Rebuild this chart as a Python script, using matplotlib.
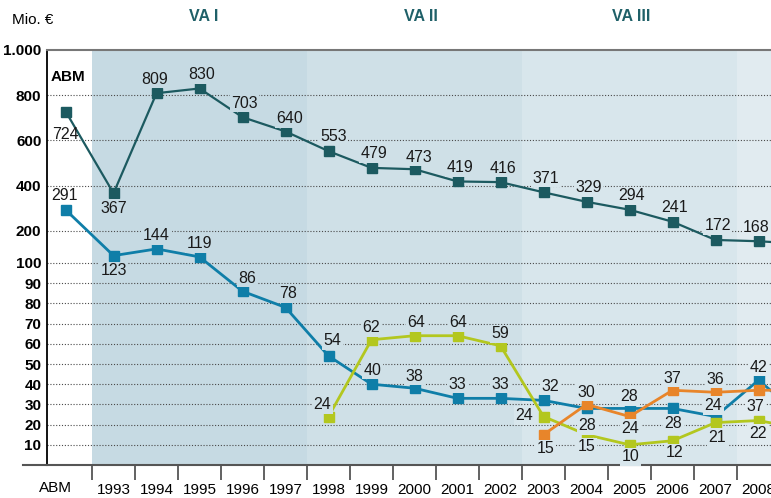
import numpy as np
import matplotlib
matplotlib.use('Agg')
import matplotlib.pyplot as plt
from matplotlib.lines import Line2D

# Daten (Mio. EUR), ABM + Jahre 1993-2009 (2009 nur angeschnitten)
kategorien = ['ABM', '1993', '1994', '1995', '1996', '1997', '1998', '1999', '2000',
              '2001', '2002', '2003', '2004', '2005', '2006', '2007', '2008', '2009']
abm_gesamt = [724, 367, 809, 830, 703, 640, 553, 479, 473, 419, 416, 371, 329, 294, 241, 172, 168, 160]
blau = [291, 123, 144, 119, 86, 78, 54, 40, 38, 33, 33, 32, 28, 28, 28, 24, 42, 24]
gruen = [None] * 6 + [24, 62, 64, 64, 59, 24, 15, 10, 12, 21, 22, 18]
orange = [None] * 11 + [15, 30, 24, 37, 36, 37, 37]

y_ticks = [10, 20, 30, 40, 50, 60, 70, 80, 90, 100, 200, 400, 600, 800, 1000]
y_labels = ['10', '20', '30', '40', '50', '60', '70', '80', '90', '100', '200', '400', '600', '800', '1.000']
perioden = ['VA I', 'VA II', 'VA III']

# Position der Beschriftungen (Pixel-Offset zum Punkt)
O = (2, 14)
U = (0, -15)
pos_abm = [(-1, -22), U, (-2, 14), O, O, (4, 13), (5, 15), O, (4, 12), O, O, O, O, O, O, O, (-2, 14), None]
pos_blau = [(-2, 15), U, (0, 13), (0, 13), (5, 13), (3, 14), (4, 15), (1, 14), (0, 12), (0, 14), (0, 14),
            (7, 14), (1, -17), (0, 12), (1, -15), (-2, 11), (0, 13), None]
pos_gruen = [None] * 6 + [(-6, 12), (0, 12), (2, 13), (1, 13), (0, 12), (-19, 1), (0, -12), (1, -12),
                          (2, -12), (2, -15), (-1, -13), None]
pos_orange = [None] * 11 + [(2, -14), (0, 12), (1, -12), (0, 12), (0, 13), (-3, -16), None]

# x-Positionen: 1993 = 0, ABM etwas weiter links
xpos = np.r_[-1.1, np.arange(len(kategorien) - 1)]

# gebrochene y-Achse: 0-100 / 100-200 / 200-1000
sv = [0, 100, 200, 1000]
sp = [0, 202, 234, 415]
def fwd(v):
    return np.interp(v, sv, sp)
def inv(p):
    return np.interp(p, sp, sv)

band_farben = ['#c6dae3', '#cfe0e7', '#d8e6ec', '#e1ebf0']
band_grenzen = [-0.5, 4.5, 9.5, 14.5, 30]

def hintergrund(x):
    for i in range(4):
        if band_grenzen[i] <= x < band_grenzen[i + 1]:
            return band_farben[i]
    return 'none'

fig = plt.figure(figsize=(7.71, 4.98), dpi=100)
W, H = 771, 498
ax = fig.add_axes([47 / W, (H - 465) / H, (W - 47) / W, (465 - 50) / H])
ax.set_yscale('function', functions=(fwd, inv))

for i in range(4):
    ax.axvspan(band_grenzen[i], band_grenzen[i + 1], color=band_farben[i], lw=0, zorder=0)

for y in y_ticks[:-1]:
    ax.axhline(y, color='#4a4a4a', lw=0.8, ls=(0, (1, 1.6)), zorder=1)

def zeichne(werte, farbe, pos, lw):
    w = np.array([np.nan if v is None else v for v in werte], dtype=float)
    ax.plot(xpos, w, color=farbe, lw=lw, marker='s', ms=6.5, zorder=3, clip_on=True)
    for xi, v, p in zip(xpos, werte, pos):
        if v is None or p is None:
            continue
        ax.annotate(str(v), (xi, v), xytext=p, textcoords='offset pixels',
                    ha='center', va='center', fontsize=11.5, family=['Liberation Sans', 'DejaVu Sans'],
                    color='#1a1a1a', zorder=4,
                    bbox=dict(boxstyle='square,pad=0.1', fc=hintergrund(xi + p[0] / 43.0), ec='none'))

zeichne(abm_gesamt, '#1c5a60', pos_abm, 1.6)
zeichne(blau, '#0f7ea8', pos_blau, 2.0)
zeichne(gruen, '#b3c71f', pos_gruen, 2.0)
zeichne(orange, '#e8852a', pos_orange, 2.0)

ax.set_yticks(y_ticks)
ax.set_yticklabels(y_labels)
ax.yaxis.set_minor_locator(plt.NullLocator())
ax.tick_params(axis='y', length=0, pad=4, labelsize=11)
for t in ax.get_yticklabels():
    t.set_family(['Liberation Sans Narrow', 'Liberation Sans'])
    t.set_fontweight('bold')

ax.set_xticks(np.arange(16))
ax.set_xticklabels(kategorien[1:17])
ax.set_xticks(np.arange(-0.5, 15.6, 1), minor=True)
ax.tick_params(axis='x', which='major', length=0, pad=13, labelsize=11)
ax.tick_params(axis='x', which='minor', length=11, width=1.3, color='#555555', direction='out')
for t in ax.get_xticklabels():
    t.set_family(['Liberation Sans', 'DejaVu Sans'])

# Grenzen erst nach den Ticks setzen
ax.set_xlim(-1.547, 15.29)
ax.set_ylim(0, 1000)

ax.spines['right'].set_visible(False)
ax.spines['top'].set_color('#777777')
ax.spines['top'].set_linewidth(1.5)
ax.spines['left'].set_color('black')
ax.spines['left'].set_linewidth(1.3)
ax.spines['bottom'].set_color('#555555')
ax.spines['bottom'].set_linewidth(1.5)
# x-Achse nach links verlaengern
fig.add_artist(Line2D([23 / W, 47 / W], [(H - 465) / H] * 2, color='#555555', lw=1.5))

fig.text(55 / W, 1 - 488 / H, 'ABM', ha='center', va='center', fontsize=11, family='Liberation Sans')
fig.text(12 / W, 1 - 20 / H, 'Mio. €', ha='left', va='center', fontsize=11, family='Liberation Sans')
ax.text(-1.1 + 0.05, 800 + 80, 'ABM', ha='center', va='center', fontsize=11, fontweight='bold',
        family='Liberation Sans', zorder=4)
titel_x = [2.1, 7.15, 12.05]
for tx, name in zip(titel_x, perioden):
    ax.text(tx, 1 + 33 / 415, name, transform=ax.get_xaxis_transform(), ha='center', va='center',
            fontsize=11.5, fontweight='bold', color='#1f6068', family='Liberation Sans')

fig.savefig('out.png', dpi=100)
